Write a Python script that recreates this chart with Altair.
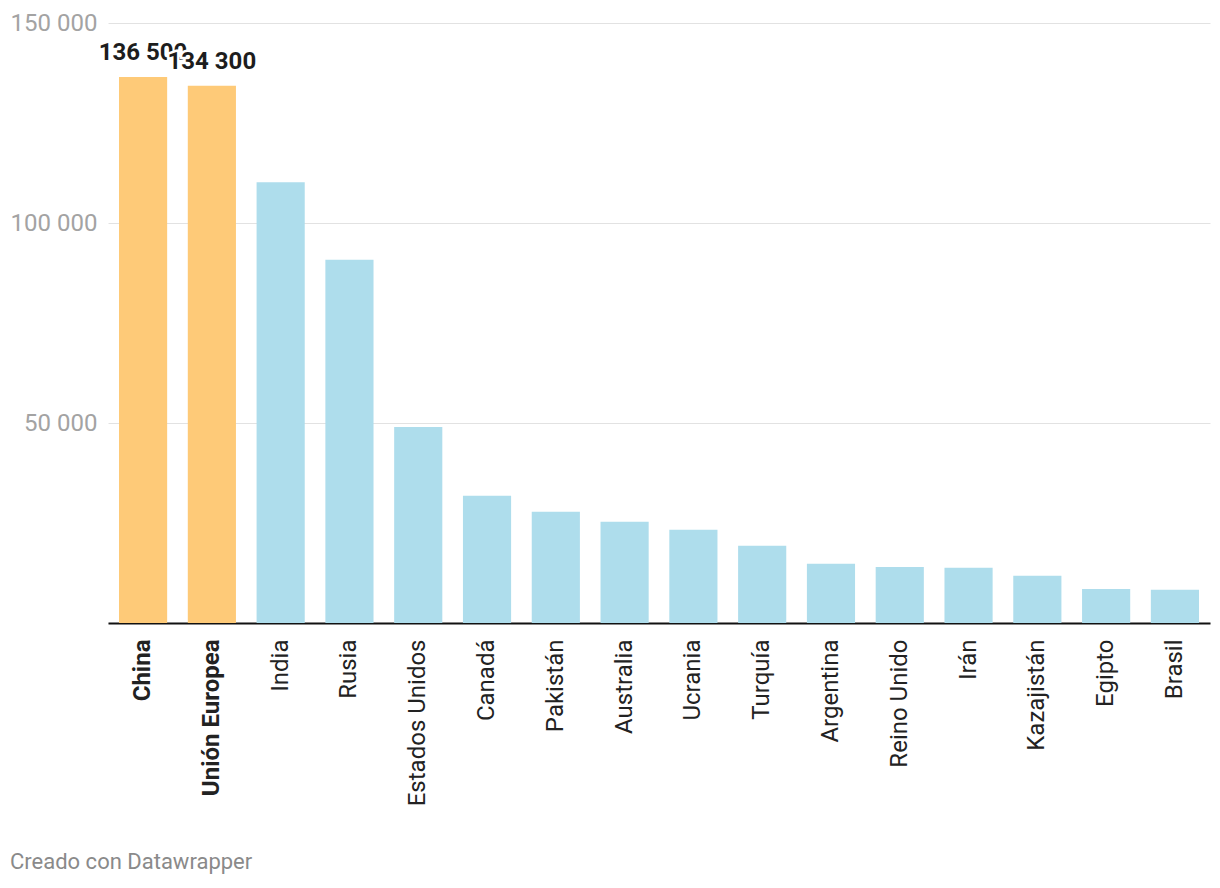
import altair as alt
import pandas as pd

paises = ["China", "Unión Europea", "India", "Rusia", "Estados Unidos", "Canadá",
          "Pakistán", "Australia", "Ucrania", "Turquía", "Argentina", "Reino Unido",
          "Irán", "Kazajistán", "Egipto", "Brasil"]
valores = [136500, 134300, 110200, 90800, 49000, 31800, 27800, 25300, 23300, 19300,
           14800, 14000, 13800, 11800, 8500, 8300]
destacados = ["China", "Unión Europea"]
etiquetas = ["136 500", "134 300"] + [""] * 14
pie = "Creado con Datawrapper"

df = pd.DataFrame({
    "pais": paises,
    "valor": valores,
    "grupo": ["destacado" if p in destacados else "resto" for p in paises],
    "etiqueta": etiquetas,
})

FONT = "Roboto"

x_enc = alt.X(
    "pais:N", sort=None,
    scale=alt.Scale(paddingInner=0.3, paddingOuter=0.16),
    axis=alt.Axis(
        title=None, labelAngle=-90, labelAlign="right", labelBaseline="middle",
        labelFontSize=24, labelColor="#222222", labelFont=FONT, labelPadding=16,
        ticks=False, domainColor="#111111", domainWidth=2, grid=False,
        labelFontWeight=alt.condition(
            "datum.value == 'China' || datum.value == 'Unión Europea'",
            alt.value("bold"), alt.value("normal")),
    ),
)
y_enc = alt.Y(
    "valor:Q",
    scale=alt.Scale(domain=[0, 150000], nice=False),
    axis=alt.Axis(
        title=None, values=[0, 50000, 100000, 150000],
        labelExpr="datum.value == 0 ? '' : replace(format(datum.value, ','), ',', ' ')",
        domain=False, ticks=False, gridColor="#e2e2e2", gridWidth=1,
        labelFontSize=24, labelColor="#a3a3a3", labelFont=FONT, labelPadding=11,
    ),
)

base = alt.Chart(df).encode(x=x_enc, y=y_enc)

bars = base.mark_bar().encode(
    color=alt.Color("grupo:N",
                    scale=alt.Scale(domain=["destacado", "resto"],
                                    range=["#FECA78", "#AEDDEC"]),
                    legend=None)
)

txt_kw = dict(font=FONT, fontSize=24, fontWeight="bold", align="center",
              baseline="alphabetic", dy=-17)

t_china = base.transform_filter("datum.pais == 'China'").mark_text(
    color="#1d1d1d", **txt_kw).encode(text="etiqueta:N")
t_ue_halo = base.transform_filter("datum.pais == 'Unión Europea'").mark_text(
    color="#ffffff", stroke="#ffffff", strokeWidth=5, **txt_kw).encode(text="etiqueta:N")
t_ue = base.transform_filter("datum.pais == 'Unión Europea'").mark_text(
    color="#1d1d1d", **txt_kw).encode(text="etiqueta:N")

footer = alt.Chart(pd.DataFrame({"t": [pie]})).mark_text(
    font=FONT, fontSize=22, color="#8a8a8a", align="left", baseline="alphabetic"
).encode(x=alt.value(-98), y=alt.value(846), text="t:N")

chart = alt.layer(bars, t_china, t_ue_halo, t_ue, footer).properties(
    width=1102, height=600,
    autosize=alt.AutoSizeParams(type="none"),
    padding={"left": 100, "top": 15, "right": 2, "bottom": 257},
).configure(background="white").configure_view(stroke=None)

chart.save("out.html", embed_options={"renderer": "svg", "actions": False})
